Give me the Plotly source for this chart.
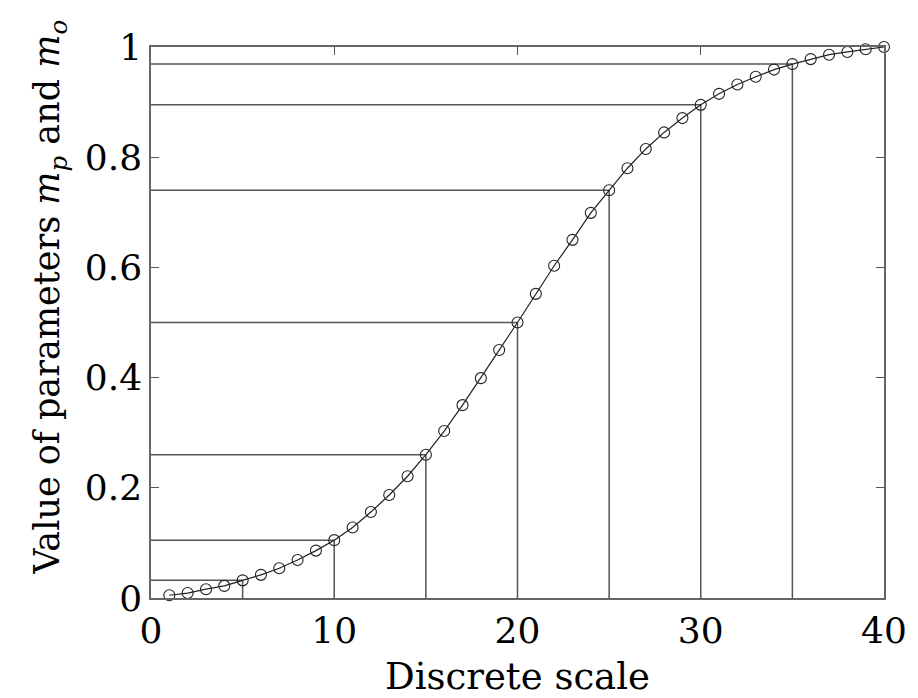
import plotly.graph_objects as go

# Discrete scale positions and parameter values
x_vals = list(range(1, 41))
y_vals = [0.005, 0.009, 0.016, 0.022, 0.032, 0.042, 0.054, 0.069, 0.086, 0.105,
          0.128, 0.156, 0.187, 0.221, 0.260, 0.303, 0.350, 0.399, 0.450, 0.500,
          0.552, 0.603, 0.650, 0.699, 0.740, 0.780, 0.815, 0.845, 0.871, 0.895,
          0.915, 0.932, 0.946, 0.959, 0.969, 0.978, 0.986, 0.991, 0.996, 1.000]

# Guide positions (drop lines to both axes)
guide_x = [5, 10, 15, 20, 25, 30, 35]

x_ticks = [0, 10, 20, 30, 40]
y_ticks = [0, 0.2, 0.4, 0.6, 0.8, 1]
y_tick_text = ["0", "0.2", "0.4", "0.6", "0.8", "1"]

y_title = "Value of parameters <i>m</i><sub><i>p</i></sub> and <i>m</i><sub><i>o</i></sub>"
x_title = "Discrete scale"

gx, gy = [], []
for k in guide_x:
    v = y_vals[x_vals.index(k)]
    gx += [0, k, None, k, k, None]
    gy += [v, v, None, v, 0, None]

fig = go.Figure()
fig.add_trace(go.Scatter(x=gx, y=gy, mode="lines",
                         line=dict(color="#555555", width=1.5),
                         hoverinfo="skip", showlegend=False))
fig.add_trace(go.Scatter(x=x_vals, y=y_vals, mode="lines+markers",
                         cliponaxis=False,
                         line=dict(color="#222222", width=1.2),
                         marker=dict(symbol="circle-open", size=11,
                                     color="#222222", line=dict(width=1.1)),
                         showlegend=False))

font_family = "DejaVu Serif"
fig.update_layout(
    width=918, height=698,
    margin=dict(l=143, r=42, t=39, b=108, autoexpand=False),
    paper_bgcolor="white", plot_bgcolor="white",
    font=dict(family=font_family, color="black", size=36),
)
fig.add_annotation(text=y_title, textangle=-90, xref="paper", yref="paper",
                   x=0, y=0.545, xanchor="center", yanchor="middle",
                   xshift=-101, showarrow=False,
                   font=dict(family=font_family, size=35, color="black"))
fig.update_xaxes(range=[0, 40], tickvals=x_ticks, ticks="inside", ticklen=8,
                 tickcolor="#555555", showline=True, linecolor="#666666",
                 linewidth=1.5, mirror="ticks", showgrid=False, zeroline=False,
                 tickfont=dict(family=font_family, size=36),
                 title=dict(text=x_title, standoff=13,
                            font=dict(family=font_family, size=37)))
fig.update_yaxes(range=[0, 1], tickvals=y_ticks, ticktext=y_tick_text,
                 ticks="inside", ticklen=8, tickcolor="#555555",
                 showline=True, linecolor="#666666", linewidth=1.5,
                 mirror="ticks", showgrid=False, zeroline=False,
                 tickfont=dict(family=font_family, size=36))

fig.write_html("out.html")
